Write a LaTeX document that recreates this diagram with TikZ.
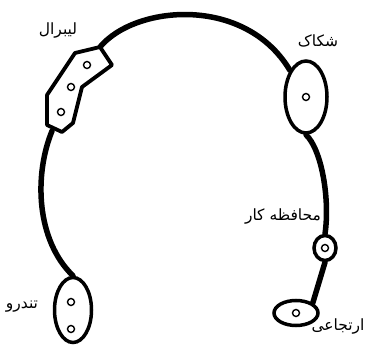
\documentclass[tikz,border=0pt]{standalone}
\usepackage{fontspec}
\usetikzlibrary{shapes.geometric}
\newfontfamily\arabicfont[Script=Arabic]{DejaVu Sans}
\TeXXeTstate=1
\tikzset{
  camp/.style={ellipse, draw, line width=3.5pt, fill=white, inner sep=0pt},
  seat/.style={circle, draw, line width=1.4pt, minimum size=7pt, inner sep=0pt},
  party/.style={font=\arabicfont\fontsize{15.5}{18}\selectfont},
  spectrum/.style={line width=5.5pt, line cap=round}
}
\begin{document}
\begin{tikzpicture}[x=1pt, y=-1pt]
  \useasboundingbox (0,0) rectangle (366,352);
  % the camps
  \node[camp, minimum width=37pt, minimum height=65pt] (tandro) at (73,310) {};
  \node[camp, minimum width=42pt, minimum height=72pt] (shakak) at (306,97) {};
  \node[camp, minimum width=22pt, minimum height=25pt] (mohafez) at (325,248) {};
  \node[camp, minimum width=44pt, minimum height=25pt] (ertejaee) at (296,313) {};
  \coordinate (libtop) at (100,47);
  \coordinate (libbot) at (52,131);
  % the spectrum
  \draw[spectrum] (tandro.north) .. controls (36,240) and (34,175) .. (libbot);
  \draw[spectrum] (libtop) .. controls (135,5) and (245,-5) .. (shakak.north west);
  \draw[spectrum] (shakak.south) .. controls (322,150) and (330,200) .. (mohafez.north);
  \draw[spectrum] (mohafez.south) -- (ertejaee.north east);
  % liberal block
  \draw[line width=3.8pt, line join=round, fill=white]
    (100,47) -- (112,65) -- (82,87) -- (73,123) -- (62,132) -- (47,125)
    -- (47,95) -- (75,53) -- cycle;
  % the seats
  \node[seat] (l1) at (87,65) {};
  \node[seat] (l2) at (71,87) {};
  \node[seat] (l3) at (61,112) {};
  \node[seat] (t1) at (71,302) {};
  \node[seat] (t2) at (71,329) {};
  \node[seat] at (shakak) {};
  \node[seat] at (mohafez) {};
  \node[seat] at (ertejaee) {};
  % labels
  \node[party] (lliberal) at (58,31) {\beginR لیبرال\endR};
  \node[party] (lshakak) at (318,41) {\beginR شکاک\endR};
  \node[party] (lmohafez) at (283,217) {\beginR محافظه کار\endR};
  \node[party] (lertejaee) at (338,327) {\beginR ارتجاعی\endR};
  \node[party] (ltandro) at (22,307) {\beginR تندرو\endR};
\end{tikzpicture}
\end{document}
